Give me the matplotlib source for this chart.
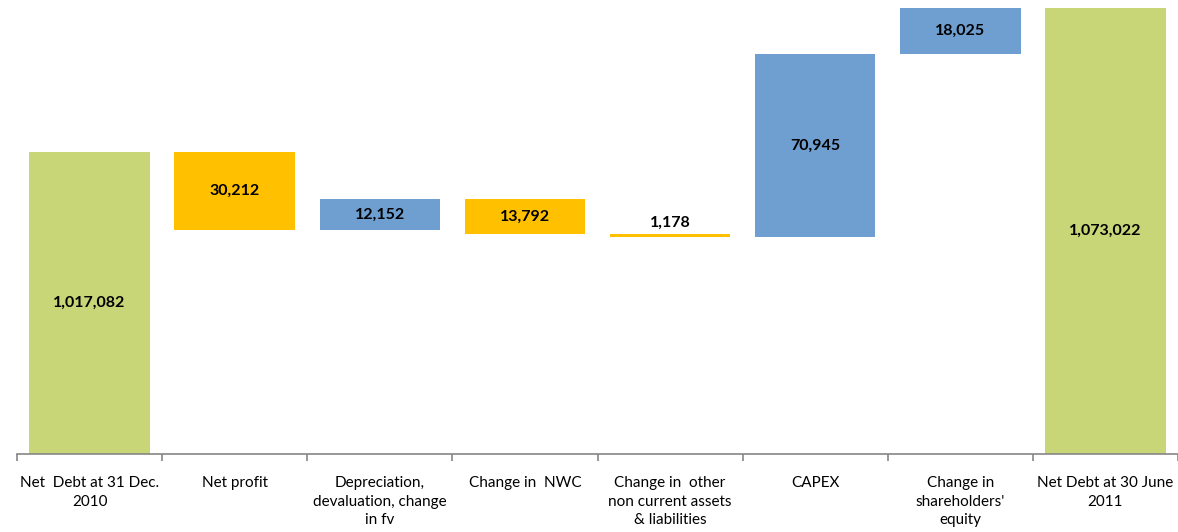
import numpy as np
import matplotlib.pyplot as plt

# net debt bridge, Dec 2010 -> June 2011
categories = ["Net  Debt at 31 Dec.\n2010", "Net profit",
              "Depreciation,\ndevaluation, change\nin fv", "Change in  NWC",
              "Change in  other\nnon current assets\n& liabilities", "CAPEX",
              "Change in\nshareholders'\nequity", "Net Debt at 30 June\n2011"]
opening = 1017082
closing = 1073022
moves = [-30212, 12152, -13792, -1178, 70945, 18025]   # sign = effect on net debt

c_total = "#C8D677"
c_down = "#FFC000"
c_up = "#6E9FD0"

plt.rcParams['font.family'] = ['Lato', 'DejaVu Sans']

fig = plt.figure(figsize=(11.78, 5.32), dpi=100)
ax = fig.add_axes([17 / 1178, 78 / 532, 1 - 17 / 1178, 454 / 532])

x = np.arange(len(categories))
w = 0.83
ymin = 900000

bottoms, heights, colors = [ymin], [opening - ymin], [c_total]
level = opening
for m in moves:
    lo, hi = sorted((level, level + m))
    bottoms.append(lo)
    heights.append(hi - lo)
    colors.append(c_up if m > 0 else c_down)
    level += m
bottoms.append(ymin)
heights.append(closing - ymin)
colors.append(c_total)

ax.bar(x, heights, bottom=bottoms, width=w, color=colors, linewidth=0)

values = [opening] + [abs(m) for m in moves] + [closing]
for xi, b, h, v in zip(x, bottoms, heights, values):
    y = b + h / 2
    if h < 3000:   # too thin to hold text, put it on top
        y = b + h + 4500
    ax.text(xi, y, f"{v:,}", ha='center', va='center', fontsize=11.5,
            fontweight='bold', color='black')

ax.set_xlim(-0.5, len(categories) - 0.5)
ax.set_ylim(ymin, 1076100)

for s in ['top', 'right', 'left']:
    ax.spines[s].set_visible(False)
ax.spines['bottom'].set_color('#868686')
ax.spines['bottom'].set_linewidth(1.2)
ax.set_yticks([])

ax.set_xticks(x)
ax.set_xticklabels(categories, fontsize=11, linespacing=1.4)
ax.tick_params(axis='x', which='major', length=0, pad=16)
ax.set_xticks(np.arange(-0.5, len(categories), 1), minor=True)
ax.tick_params(axis='x', which='minor', length=5, width=1.2, color='#868686')

fig.savefig("out.png", dpi=100)
